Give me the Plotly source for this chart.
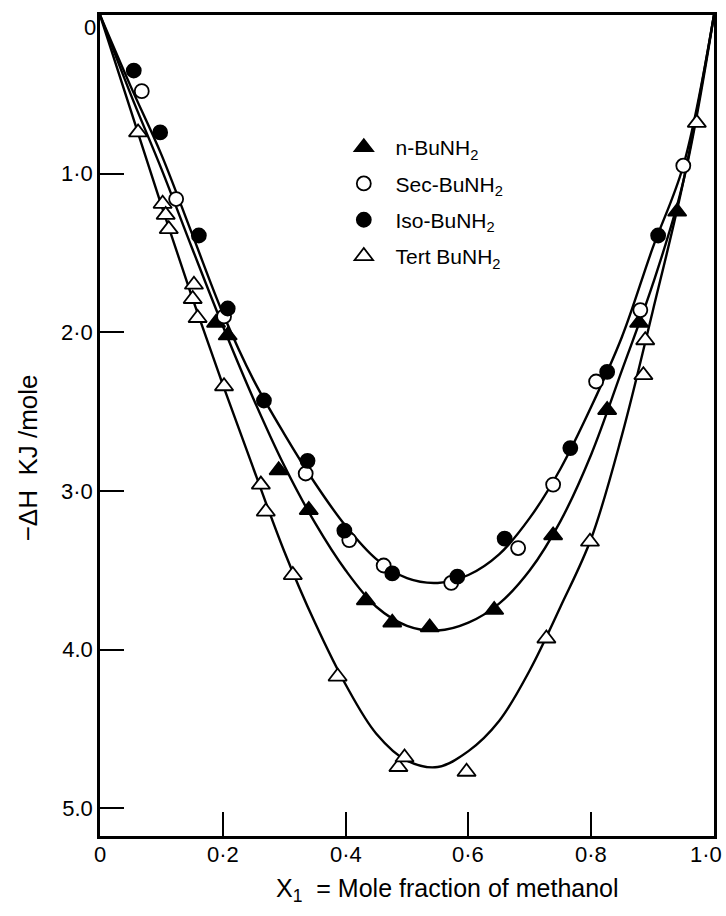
import plotly.graph_objects as go

# ---------------- data ----------------
# n-BuNH2 (filled triangles)
n_x = [0.189, 0.208, 0.291, 0.340, 0.433, 0.476, 0.537, 0.642, 0.738, 0.826, 0.878, 0.940]
n_y = [1.94, 2.02, 2.87, 3.12, 3.69, 3.83, 3.86, 3.75, 3.28, 2.49, 1.94, 1.24]

# Sec-BuNH2 (open circles)
sec_x = [0.068, 0.124, 0.202, 0.335, 0.406, 0.462, 0.572, 0.681, 0.738, 0.808, 0.880, 0.950]
sec_y = [0.48, 1.16, 1.90, 2.89, 3.31, 3.47, 3.58, 3.36, 2.96, 2.31, 1.86, 0.95]

# Iso-BuNH2 (filled circles)
iso_x = [0.055, 0.098, 0.161, 0.208, 0.267, 0.338, 0.398, 0.476, 0.582, 0.659, 0.766, 0.826, 0.909]
iso_y = [0.35, 0.74, 1.39, 1.85, 2.43, 2.81, 3.25, 3.52, 3.54, 3.30, 2.73, 2.25, 1.39]

# Tert BuNH2 (open triangles)
tert_x = [0.062, 0.102, 0.107, 0.112, 0.153, 0.151, 0.159, 0.202, 0.262, 0.270,
          0.314, 0.387, 0.486, 0.496, 0.597, 0.727, 0.798, 0.885, 0.888, 0.972]
tert_y = [0.74, 1.19, 1.26, 1.35, 1.70, 1.79, 1.91, 2.34, 2.96, 3.13,
          3.53, 4.17, 4.74, 4.68, 4.77, 3.93, 3.32, 2.27, 2.05, 0.68]

# fitted curves
curve_x = [0, 0.05, 0.10, 0.15, 0.20, 0.25, 0.30, 0.35, 0.40, 0.45, 0.50,
           0.55, 0.60, 0.65, 0.70, 0.75, 0.80, 0.85, 0.90, 0.95, 1.0]
curve_upper = [0, 0.45, 0.88, 1.38, 1.88, 2.30, 2.64, 2.95, 3.22, 3.43, 3.55,
               3.58, 3.53, 3.40, 3.17, 2.86, 2.47, 2.03, 1.47, 0.95, 0]
curve_n = [0, 0.50, 0.97, 1.47, 1.96, 2.42, 2.84, 3.20, 3.50, 3.73, 3.85,
           3.88, 3.83, 3.71, 3.50, 3.19, 2.77, 2.24, 1.70, 1.05, 0]
curve_tert = [0, 0.60, 1.20, 1.78, 2.33, 2.86, 3.38, 3.83, 4.22, 4.53, 4.70,
              4.74, 4.64, 4.45, 4.13, 3.73, 3.30, 2.65, 1.87, 1.05, 0]

x_tickvals = [0, 0.2, 0.4, 0.6, 0.8, 1.0]
x_ticktext = ["0", "0·2", "0·4", "0·6", "0·8", "1·0"]
y_tickvals = [1, 2, 3, 4, 5]
y_ticktext = ["1·0", "2·0", "3·0", "4.0", "5.0"]

FONT = "Liberation Sans"
W, H = 726, 916
ML, MR, MT, MB = 100, 9, 15, 80
PW, PH = W - ML - MR, H - MT - MB


def px_x(px):
    return (px - ML) / PW


def px_y(py):
    return 1 - (py - MT) / PH


fig = go.Figure()

for cy in (curve_upper, curve_n, curve_tert):
    fig.add_trace(go.Scatter(x=curve_x, y=cy, mode="lines",
                             line=dict(color="black", width=2.4, shape="spline", smoothing=1.0),
                             showlegend=False, hoverinfo="skip"))

mk_line = dict(color="black", width=1.8)
NB = "\u00a0"
fig.add_trace(go.Scatter(x=n_x, y=n_y, mode="markers", name=NB * 2 + "n-BuNH<sub>2</sub>",
                         legendgroup="a",
                         marker=dict(symbol="triangle-up", size=16, color="black", line=mk_line)))
fig.add_trace(go.Scatter(x=sec_x, y=sec_y, mode="markers", name=NB * 2 + "Sec-BuNH<sub>2</sub>",
                         legendgroup="b",
                         marker=dict(symbol="circle", size=14, color="white", line=mk_line)))
fig.add_trace(go.Scatter(x=iso_x, y=iso_y, mode="markers", name=NB * 2 + "Iso-BuNH<sub>2</sub>",
                         legendgroup="c",
                         marker=dict(symbol="circle", size=14, color="black", line=mk_line)))
fig.add_trace(go.Scatter(x=tert_x, y=tert_y, mode="markers", name=NB * 2 + "Tert BuNH<sub>2</sub>",
                         legendgroup="d",
                         marker=dict(symbol="triangle-up", size=16, color="white", line=mk_line)))

axis_common = dict(showline=True, linecolor="black", linewidth=2.5, mirror=True,
                   ticks="inside", ticklen=24, tickwidth=2, tickcolor="black",
                   showgrid=False, zeroline=False, tickfont=dict(size=22))

# x tick labels placed as annotations on the x scale (closer to the axis, as in the original)
annotations = []
for v, t in zip(x_tickvals, x_ticktext):
    annotations.append(dict(text=t, x=v, xref="x", y=px_y(854), yref="paper",
                            xanchor="center", yanchor="middle", showarrow=False,
                            xshift=-8 if v == 1.0 else 0, font=dict(size=22)))
annotations += [
    dict(text="0", x=px_x(90), y=px_y(27), xref="paper", yref="paper",
         xanchor="center", yanchor="middle", showarrow=False, font=dict(size=22)),
    dict(text="−ΔH  KJ /mole", x=px_x(28), y=px_y(458), xref="paper", yref="paper",
         xanchor="center", yanchor="middle",
         showarrow=False, textangle=-90, font=dict(size=26)),
    dict(text="X<sub>1</sub>  = Mole fraction of methanol", x=px_x(449), y=px_y(890),
         xref="paper", yref="paper", xanchor="center", yanchor="middle",
         showarrow=False, font=dict(size=25)),
]

fig.update_layout(
    width=W, height=H,
    margin=dict(l=ML, r=MR, t=MT, b=MB),
    paper_bgcolor="white", plot_bgcolor="white",
    font=dict(family=FONT, color="black", size=20),
    legend=dict(x=px_x(345), y=px_y(127), xanchor="left", yanchor="top",
                font=dict(size=21, family=FONT), tracegroupgap=6,
                bgcolor="rgba(0,0,0,0)", itemwidth=30),
    xaxis=dict(range=[0, 1.0], tickvals=x_tickvals, showticklabels=False, **axis_common),
    yaxis=dict(range=[5.175, 0], tickvals=y_tickvals, ticktext=y_ticktext, **axis_common),
    annotations=annotations,
)

fig.write_html("out.html",
               config={"displayModeBar": False},
               post_script="document.body.style.margin='0px';document.body.style.padding='0px';")
